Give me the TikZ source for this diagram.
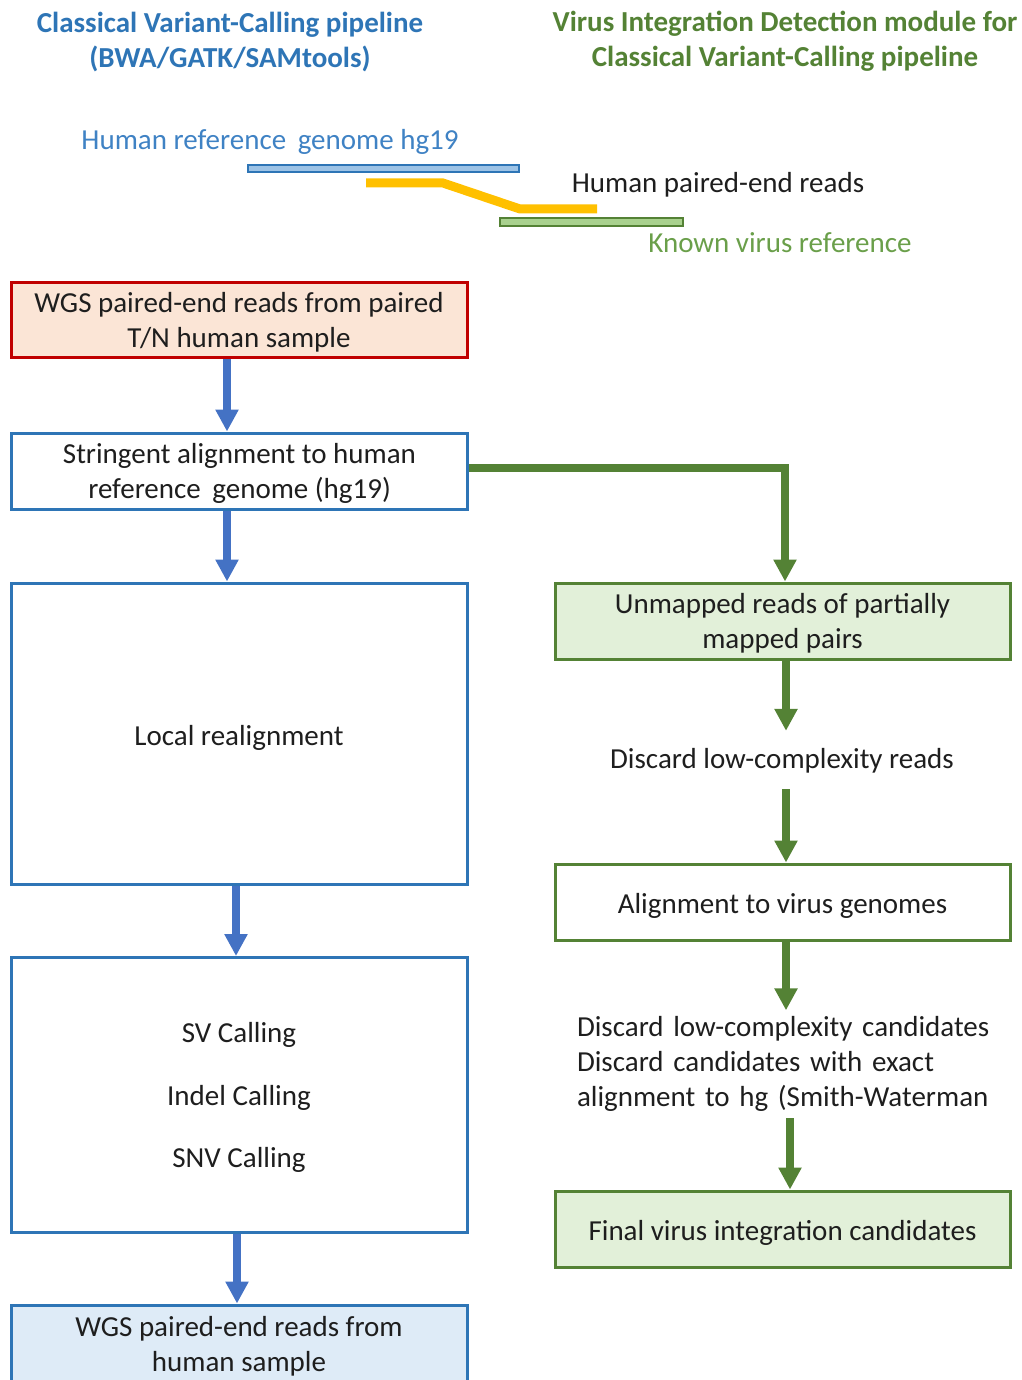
\documentclass[tikz,border=0pt]{standalone}
\usepackage{fontspec}
\setmainfont{Carlito}
\usetikzlibrary{arrows.meta}
\definecolor{hblue}{HTML}{2E75B6}
\definecolor{refblue}{HTML}{3F82C4}
\definecolor{arrblue}{HTML}{4472C4}
\definecolor{lblue}{HTML}{DEEBF7}
\definecolor{barblue}{HTML}{9DC3E6}
\definecolor{hred}{HTML}{C00000}
\definecolor{lred}{HTML}{FBE5D6}
\definecolor{hgreen}{HTML}{548235}
\definecolor{vgreen}{HTML}{6A9F4A}
\definecolor{lgreen}{HTML}{E2F0D9}
\definecolor{bargreen}{HTML}{A9D18E}
\definecolor{hyellow}{HTML}{FFC000}
\definecolor{txt}{HTML}{1E1E1E}
\newcommand\tstrut{\rule{0pt}{27pt}}
\begin{document}
\begin{tikzpicture}[x=1pt,y=-1pt,
  fnt/.style={font=\fontsize{29}{35}\selectfont,
    execute at begin node={\rule{0pt}{30pt}},
    execute at end node={\rule[-7pt]{0pt}{7pt}}},
  box/.style={fnt, draw, line width=3pt, minimum width=456pt,
    align=center, inner sep=0pt, text=txt},
  plain/.style={fnt, inner sep=0pt, text=txt, align=center},
  barrow/.style={-{Triangle[width=22pt,length=22pt]}, line width=8pt, draw=arrblue},
  garrow/.style={-{Triangle[width=22pt,length=22pt]}, line width=8pt, draw=hgreen},
  head/.style={font=\fontsize{29}{35}\selectfont\bfseries, align=center, inner sep=0pt}
]
\useasboundingbox (0,0) rectangle (1021,1380);

% headers
\node[head, text=hblue] (hl) at (230,42) {Classical Variant-Calling pipeline\\(BWA/GATK/SAMtools)};
\node[head, text=hgreen] (hr) at (785,41) {Virus Integration Detection module for\\Classical Variant-Calling pipeline};

% schematic
\node[plain, text=refblue] (tref) at (270,138) {Human reference\hspace{5pt} genome hg19};
\draw[line width=2.5pt, draw=hblue, fill=barblue] (248,165) rectangle (519,172);
\draw[line width=9pt, draw=hyellow] (366,183) -- (443,183) -- (520,209) -- (597,209);
\draw[line width=2.5pt, draw=hgreen, fill=bargreen] (500,218) rectangle (683,226);
\node[plain] (treads) at (718,181) {Human paired-end reads};
\node[plain, text=vgreen] (tvirus) at (780,241) {Known virus reference};

% left column
\node[box, draw=hred, fill=lred, minimum height=75pt] (b1) at (239,319.5)
  {\tstrut WGS paired-end reads from paired\\T/N human sample};
\node[box, draw=hblue, fill=white, minimum height=76pt] (b2) at (239.5,471)
  {\tstrut Stringent alignment to human\\reference\hspace{5pt} genome (hg19)};
\node[box, draw=hblue, fill=white, minimum height=301pt] (b3) at (239,733.5)
  {Local realignment};
\node[box, draw=hblue, fill=white, minimum height=275pt] (b4) at (239,1095)
  {\tstrut SV Calling\\[27.5pt]Indel Calling\\[27.5pt]SNV Calling};
\node[box, draw=hblue, fill=lblue, minimum height=78pt] (b5) at (239,1344)
  {\tstrut WGS paired-end reads from\\human sample};

\draw[barrow] (b1.south -| 227,0) -- (b2.north -| 227,0);
\draw[barrow] (b2.south -| 227,0) -- (b3.north -| 227,0);
\draw[barrow] (b3.south -| 236,0) -- (b4.north -| 236,0);
\draw[barrow] (b4.south -| 237,0) -- (b5.north -| 237,0);

% right column
\node[box, draw=hgreen, fill=lgreen, minimum width=455pt, minimum height=76pt] (b6) at (782.5,621)
  {\tstrut Unmapped reads of partially\\mapped pairs};
\node[plain, minimum height=58pt] (d1) at (782,757) {Discard low-complexity reads};
\node[box, draw=hgreen, fill=white, minimum width=455pt, minimum height=76pt] (b7) at (782.5,902)
  {Alignment to virus genomes};
\node[plain, align=left, text width=440pt, minimum height=103pt] (d2) at (797,1060)
  {Discard low-complexity candidates\\Discard candidates with exact\\alignment to hg (Smith-Waterman};
\node[box, draw=hgreen, fill=lgreen, minimum width=455pt, minimum height=76pt] (b8) at (782.5,1229)
  {Final virus integration candidates};

\draw[garrow] ([yshift=3pt]b2.east) -| ([xshift=2.5pt]b6.north);
\draw[garrow] (b6.south -| 786,0) -- ([yshift=-3pt]d1.north -| 786,0);
\draw[garrow] ([yshift=-3pt]d1.south -| 786,0) -- (b7.north -| 786,0);
\draw[garrow] (b7.south -| 786,0) -- ([yshift=-4pt]d2.north -| 786,0);
\draw[garrow] ([yshift=-4.5pt]d2.south -| 790,0) -- (b8.north -| 790,0);
\end{tikzpicture}
\end{document}
